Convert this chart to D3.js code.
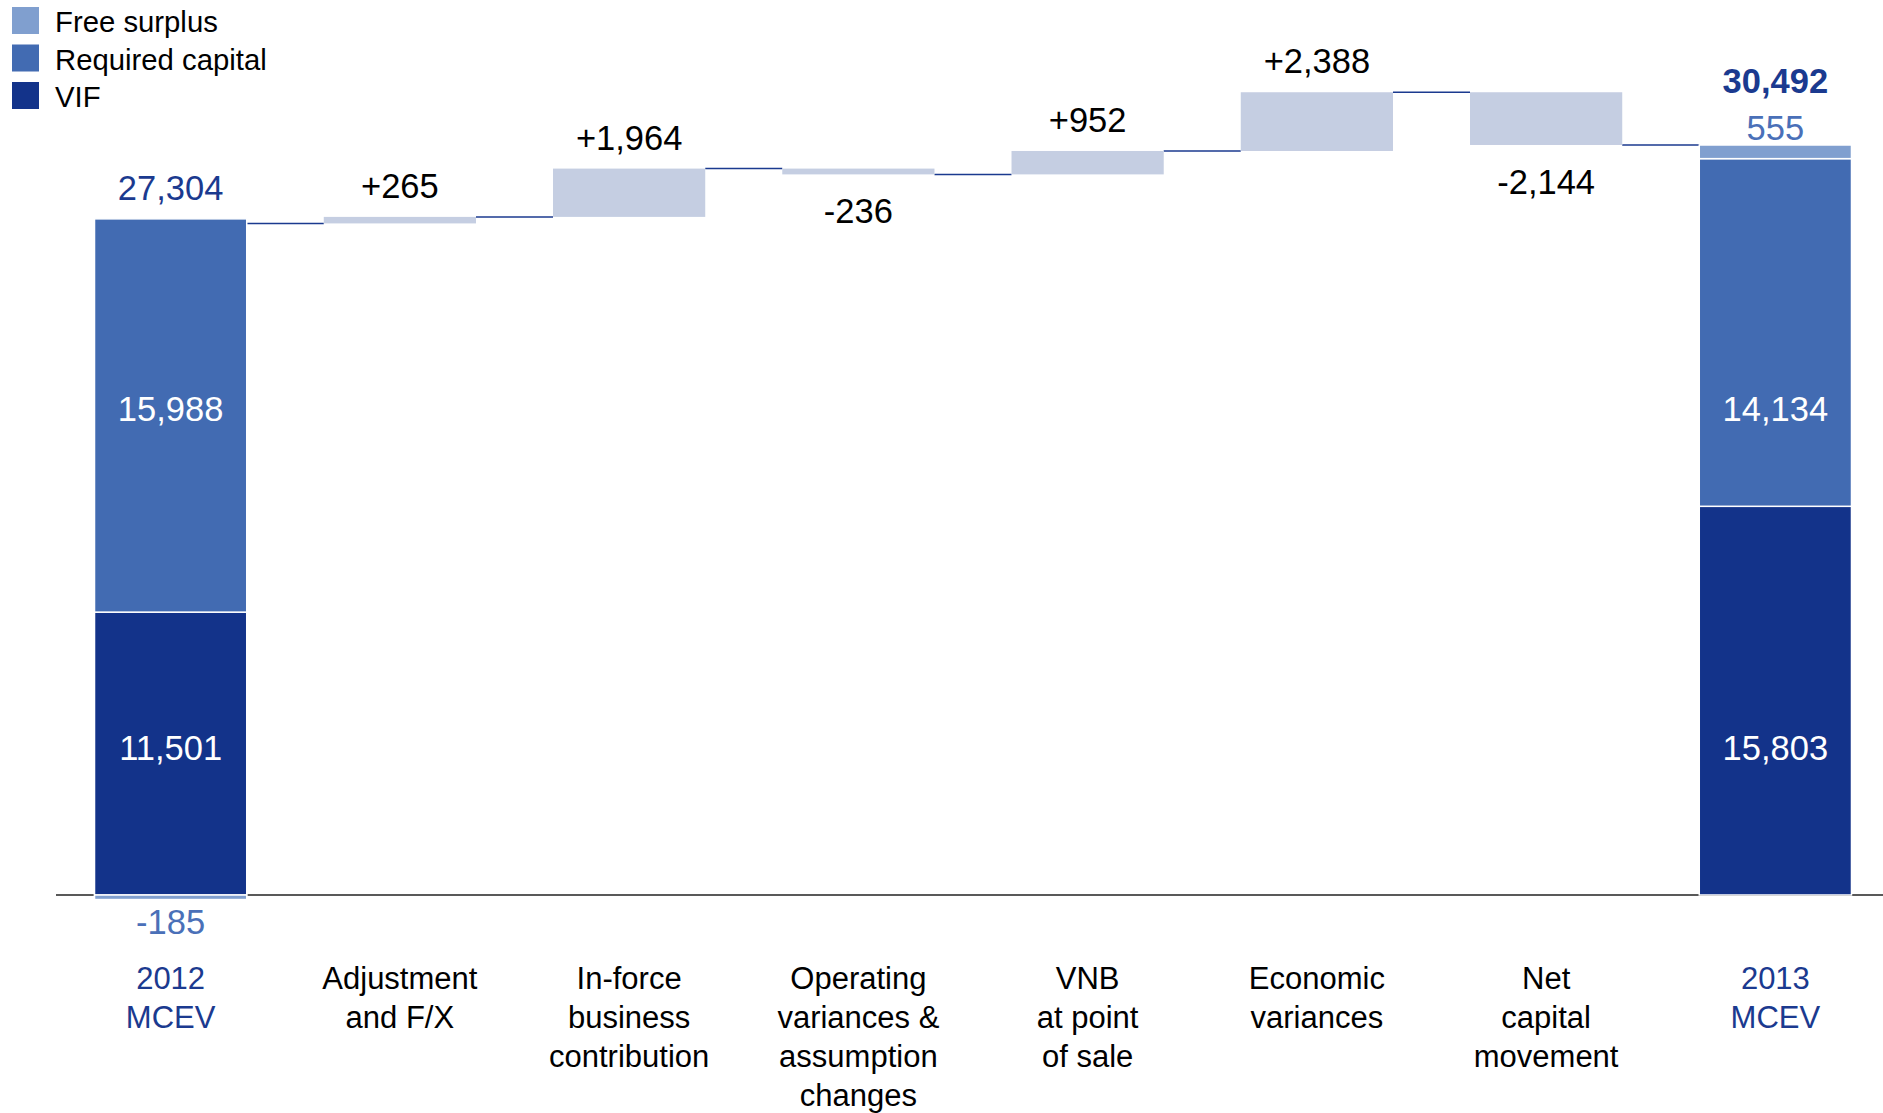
<!DOCTYPE html>
<html>
<head>
<meta charset="utf-8">
<script src="https://cdn.jsdelivr.net/npm/d3@7"></script>
<style>
    body { margin: 0; background: #fff; }
    svg { display: block; font-family: "Liberation Sans", Arial, sans-serif; }
</style>
</head>
<body>
<svg width="1883" height="1113"></svg>
<script>
// categories, one entry per bar (lines of the axis label)
var categories = [
    ["2012", "MCEV"],
    ["Adjustment", "and F/X"],
    ["In-force", "business", "contribution"],
    ["Operating", "variances &", "assumption", "changes"],
    ["VNB", "at point", "of sale"],
    ["Economic", "variances"],
    ["Net", "capital", "movement"],
    ["2013", "MCEV"],
];

// movements between the two MCEV bars
var movements = [265, 1964, -236, 952, 2388, -2144];

// stacked components of the opening and closing MCEV
var seriesNames = ["Free surplus", "Required capital", "VIF"];
var mcev2012 = { "VIF": 11501, "Required capital": 15988, "Free surplus": -185 };
var mcev2013 = { "VIF": 15803, "Required capital": 14134, "Free surplus": 555 };
var total2012 = 27304;
var total2013 = 30492;

var colors = {
    "Free surplus": "#809fcf",
    "Required capital": "#426bb2",
    "VIF": "#13338a",
};
var stepColor = "#c5cee2";
var navy = "#1b3a8f";
var midBlue = "#4a70b8";

var svg = d3.select("svg");

var xScale = d3.scaleBand()
    .domain(d3.range(categories.length))
    .range([56, 1890])
    .paddingInner(0.336)
    .paddingOuter(0.168);

var yScale = d3.scaleLinear().domain([0, total2013]).range([895, 145]);

var fmtStep = d3.format("+,");
var fmt = d3.format(",");

// stack one MCEV bar: VIF at the bottom, required capital on top, free surplus on top (or below zero)
function stackOf(values) {
    var segs = [];
    var top = 0;
    ["VIF", "Required capital"].forEach(function (k) {
        segs.push({ key: k, v0: top, v1: top + values[k] });
        top += values[k];
    });
    var fs = values["Free surplus"];
    if (fs < 0) segs.push({ key: "Free surplus", v0: 0, v1: fs });
    else segs.push({ key: "Free surplus", v0: top, v1: top + fs });
    return segs;
}

var stacks = [
    { index: 0, segs: stackOf(mcev2012) },
    { index: categories.length - 1, segs: stackOf(mcev2013) },
];

// inside labels sit at the same height on both bars (middle of the 2012 segments)
var labelLevels = {};
stacks[0].segs.forEach(function (d) { labelLevels[d.key] = (d.v0 + d.v1) / 2; });

// running totals for the floating bars
var steps = [];
var running = total2012;
movements.forEach(function (m, i) {
    steps.push({ index: i + 1, v0: running, v1: running + m, value: m });
    running += m;
});

// connector levels: after each bar
var levels = [total2012].concat(steps.map(function (s) { return s.v1; }));

// Axis line
svg.append("line")
    .attr("x1", xScale.range()[0])
    .attr("x2", 1883)
    .attr("y1", yScale(0))
    .attr("y2", yScale(0))
    .style("stroke", "#222")
    .style("stroke-width", 1.5);

// Connectors
svg.selectAll("line.connector")
    .data(levels)
    .enter()
    .append("line")
    .attr("class", "connector")
    .attr("x1", (d, i) => xScale(i) + xScale.bandwidth())
    .attr("x2", (d, i) => xScale(i + 1))
    .attr("y1", d => yScale(d))
    .attr("y2", d => yScale(d))
    .style("stroke", navy)
    .style("stroke-width", 1.5);

// Stacked MCEV bars
stacks.forEach(function (st) {
    svg.selectAll(null)
        .data(st.segs)
        .enter()
        .append("rect")
        .attr("x", xScale(st.index))
        .attr("width", xScale.bandwidth())
        .attr("y", d => yScale(Math.max(d.v0, d.v1)))
        .attr("height", d => Math.abs(yScale(d.v0) - yScale(d.v1)))
        .attr("fill", d => colors[d.key])
        .attr("stroke", "#fff")
        .attr("stroke-width", 1.5);

    // white labels inside VIF and required capital
    svg.selectAll(null)
        .data(st.segs.filter(d => d.key !== "Free surplus"))
        .enter()
        .append("text")
        .attr("x", xScale(st.index) + xScale.bandwidth() / 2)
        .attr("y", d => yScale(labelLevels[d.key]) + 6)
        .attr("text-anchor", "middle")
        .style("font-size", "34.5px")
        .style("fill", "#fff")
        .text(d => fmt(d.v1 - d.v0));
});

// Floating movement bars
svg.selectAll("rect.step")
    .data(steps)
    .enter()
    .append("rect")
    .attr("class", "step")
    .attr("x", d => xScale(d.index))
    .attr("width", xScale.bandwidth())
    .attr("y", d => yScale(Math.max(d.v0, d.v1)))
    .attr("height", d => Math.abs(yScale(d.v0) - yScale(d.v1)))
    .attr("fill", stepColor);

svg.selectAll("text.step")
    .data(steps)
    .enter()
    .append("text")
    .attr("class", "step")
    .attr("x", d => xScale(d.index) + xScale.bandwidth() / 2)
    .attr("y", d => d.value >= 0 ? yScale(d.v1) - 19 : yScale(d.v1) + 49)
    .attr("text-anchor", "middle")
    .style("font-size", "34.5px")
    .style("fill", "#000")
    .text(d => fmtStep(d.value).replace("−", "-"));

// Totals and free surplus labels
var cx0 = xScale(0) + xScale.bandwidth() / 2;
var cxN = xScale(categories.length - 1) + xScale.bandwidth() / 2;
var top2012 = mcev2012["VIF"] + mcev2012["Required capital"];

svg.append("text")
    .attr("x", cx0).attr("y", yScale(top2012) - 19)
    .attr("text-anchor", "middle")
    .style("font-size", "34.5px").style("fill", navy)
    .text(fmt(total2012));

svg.append("text")
    .attr("x", cx0).attr("y", yScale(0) + 39)
    .attr("text-anchor", "middle")
    .style("font-size", "34.5px").style("fill", midBlue)
    .text(fmt(mcev2012["Free surplus"]).replace("−", "-"));

svg.append("text")
    .attr("x", cxN).attr("y", yScale(total2013) - 5)
    .attr("text-anchor", "middle")
    .style("font-size", "34.5px").style("fill", midBlue)
    .text(fmt(mcev2013["Free surplus"]));

svg.append("text")
    .attr("x", cxN).attr("y", yScale(total2013) - 52)
    .attr("text-anchor", "middle")
    .style("font-size", "34.5px").style("font-weight", "bold").style("fill", navy)
    .text(fmt(total2013));

// Category labels
var catLabels = svg.selectAll("text.cat")
    .data(categories)
    .enter()
    .append("text")
    .attr("class", "cat")
    .attr("text-anchor", "middle")
    .style("font-size", "31px")
    .style("fill", (d, i) => (i === 0 || i === categories.length - 1) ? navy : "#000");

catLabels.selectAll("tspan")
    .data((d, i) => d.map(t => ({ t: t, i: i })))
    .enter()
    .append("tspan")
    .attr("x", d => xScale(d.i) + xScale.bandwidth() / 2)
    .attr("y", (d, j) => 989 + j * 39)
    .text(d => d.t);

// Legend
var legend = svg.selectAll("g.legend")
    .data(seriesNames)
    .enter()
    .append("g")
    .attr("class", "legend")
    .attr("transform", (d, i) => "translate(12," + (7 + i * 37.5) + ")");

legend.append("rect")
    .attr("width", 27)
    .attr("height", 27)
    .attr("fill", d => colors[d]);

legend.append("text")
    .attr("x", 43)
    .attr("y", 25)
    .style("font-size", "29.3px")
    .style("fill", "#000")
    .text(d => d);
</script>
</body>
</html>
